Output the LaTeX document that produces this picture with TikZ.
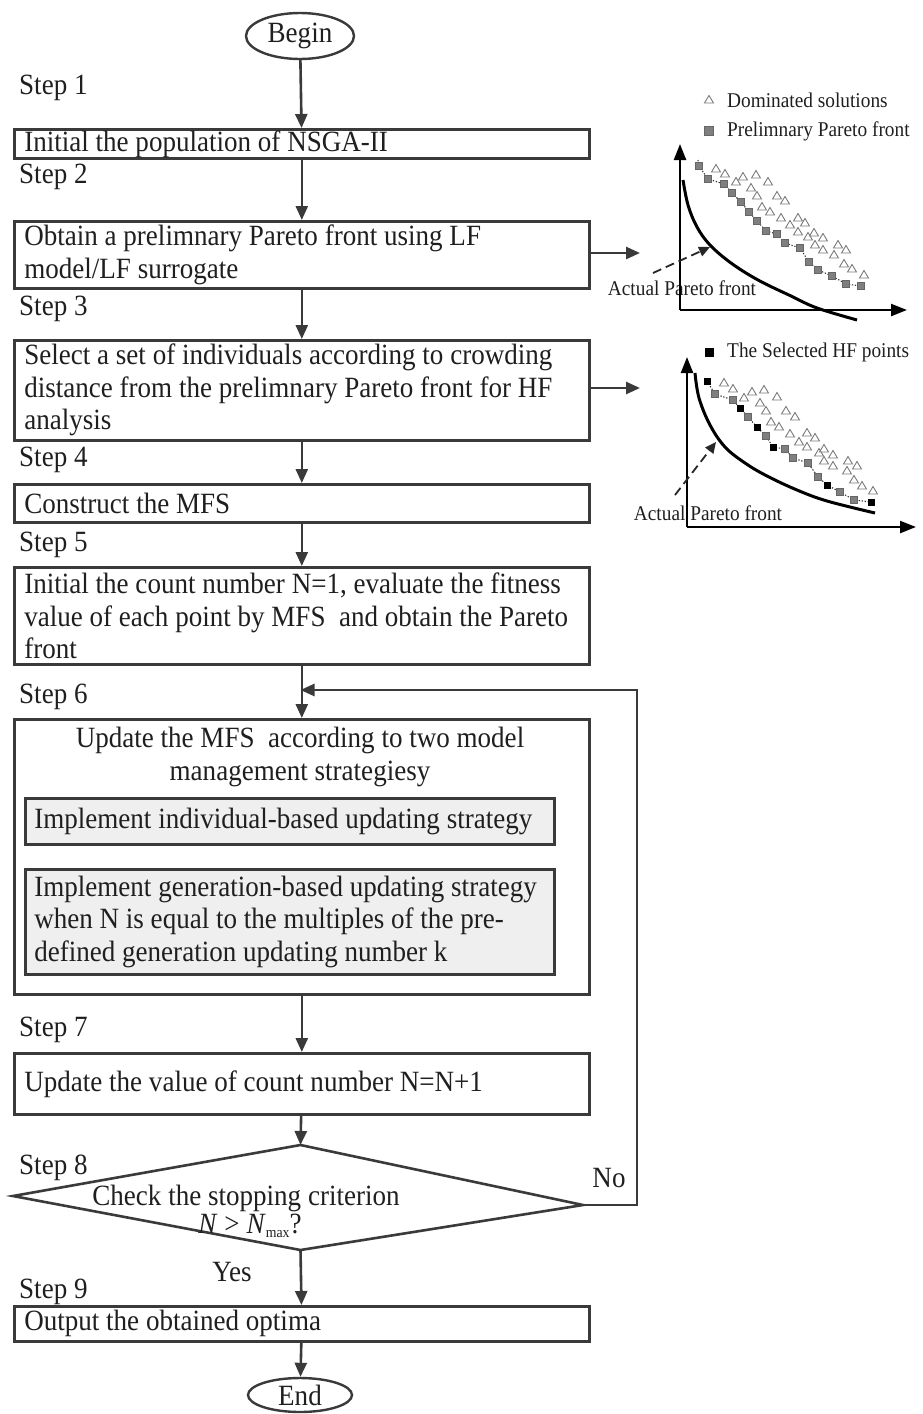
\documentclass[tikz,border=0pt]{standalone}
\usepackage{fontspec}
\setmainfont{Liberation Serif}[FakeStretch=0.92]
\usetikzlibrary{arrows.meta,shapes.geometric}
\definecolor{ln}{HTML}{3A3A3A}
\definecolor{ib}{HTML}{EFEFEF}
\definecolor{mk}{HTML}{7A7A7A}
\definecolor{sqc}{HTML}{7F7F7F}
\newcommand{\oneline}[1]{\mbox{#1}}
\begin{document}
\begin{tikzpicture}[x=1pt,y=-1pt,
  every node/.style={font=\fontsize{29.4}{32.5}\selectfont, text=black!88},
  box/.style={draw=ln, line width=2.6pt, fill=white, anchor=north west, inner xsep=10pt, inner ysep=0pt, text width=555pt, align=flush left},
  ibox/.style={draw=ln, line width=2.6pt, fill=ib, anchor=north west, inner xsep=9pt, inner ysep=0pt, text width=511pt, align=flush left},
  lbl/.style={anchor=west, inner sep=0pt},
  term/.style={draw=ln, line width=2.4pt, ellipse, inner sep=0pt, fill=white},
  arr/.style={draw=ln, line width=2.6pt, -{Triangle[length=14pt,width=12pt]}},
  axis/.style={draw=black, line width=2.4pt, -{Triangle[length=16pt,width=12pt]}},
  dasharr/.style={draw=black!85, line width=1.8pt, dash pattern=on 9pt off 5pt, -{Triangle[length=11pt,width=10pt]}},
  small/.style={font=\fontsize{21}{22}\selectfont, inner sep=0pt},
  front/.style={draw=black, line width=3pt},
  tri/.style={draw=mk, line width=0.9pt},
  sq/.style={fill=sqc, draw=black!60, line width=0.5pt},
  bsq/.style={fill=black},
  dotl/.style={draw=black!80, line width=1.1pt, dash pattern=on 1.3pt off 1.7pt}
]
\useasboundingbox (0,0) rectangle (922,1414);

% ---------------- flowchart ----------------
\node[term, minimum width=108pt, minimum height=46pt] (begin) at (300,36) {Begin};

\node[lbl] (s1) at (19,88) {Step 1};
\node[box, minimum height=29pt] (b1) at (13,128) {\oneline{Initial the population of NSGA-II}};

\node[lbl] (s2) at (19,177) {Step 2};
\node[box, minimum height=67pt] (b2) at (13,220) {\oneline{Obtain a prelimnary Pareto front using LF}\\ \oneline{model/LF surrogate}};

\node[lbl] (s3) at (19,309) {Step 3};
\node[box, minimum height=100pt] (b3) at (13,339) {\oneline{Select a set of individuals according to crowding}\\ \oneline{distance from the prelimnary Pareto front for HF}\\ \oneline{analysis}};

\node[lbl] (s4) at (19,460) {Step 4};
\node[box, minimum height=38pt] (b4) at (13,483) {\oneline{Construct the MFS}};

\node[lbl] (s5) at (19,545) {Step 5};
\node[box, minimum height=97pt] (b5) at (13,566) {\oneline{Initial the count number N=1, evaluate the fitness}\\ \oneline{value of each point by MFS\ \ and obtain the Pareto}\\ \oneline{front}};

\node[lbl] (s6) at (19,697) {Step 6};
\node[box, minimum height=275pt] (b6) at (13,718) {};
\node[align=center, inner sep=0pt] (t6) at (300,757) {Update the MFS\ \ according to two model\\ management strategiesy};
\node[ibox, minimum height=46pt] (i1) at (24,797) {\oneline{Implement individual-based updating strategy}};
\node[ibox, minimum height=105pt] (i2) at (24,868) {\oneline{Implement generation-based updating strategy}\\ \oneline{when N is equal to the multiples of the pre-}\\ \oneline{defined generation updating number k}};

\node[lbl] (s7) at (19,1030) {Step 7};
\node[box, minimum height=61pt] (b7) at (13,1052) {\oneline{Update the value of count number N=N+1}};

\node[lbl] (s8) at (19,1168) {Step 8};
\coordinate (dt) at (300.5,1145);
\coordinate (dr) at (583,1205);
\coordinate (db) at (300.5,1250);
\coordinate (dl) at (13,1196);
\draw[ln, line width=2.6pt, line join=miter] (dt) -- (dr) -- (db) -- (dl) -- cycle;
\node[inner sep=0pt] (dtext) at (246,1198) {Check the stopping criterion};
\node[inner sep=0pt] (dcond) at (250,1226) {\textit{N} > \textit{N}\raisebox{-4pt}{\fontsize{15}{15}\selectfont max}?};

\node[inner sep=0pt] (no) at (609,1178) {No};
\node[inner sep=0pt] (yes) at (232,1272) {Yes};

\node[lbl] (s9) at (19,1292) {Step 9};
\node[box, minimum height=35pt] (b9) at (13,1305) {\oneline{Output the obtained optima}};

\node[term, minimum width=104pt, minimum height=34pt] (end) at (300,1395) {End};

\draw[arr] (begin) -- (b1);
\draw[arr] (b1) -- (b2);
\draw[arr] (b2) -- (b3);
\draw[arr] (b3) -- (b4);
\draw[arr] (b4) -- (b5);
\draw[arr] (b5) -- (b6);
\draw[arr] (b6) -- (b7);
\draw[arr] (b7) -- (dt);
\draw[arr] (db) -- (b9);
\draw[arr] (b9) -- (end);
\coordinate (jn) at (300.5,690);
\draw[arr] (dr) -- (637,1205) -- (637,690) -- (jn);

\coordinate (p1) at (640,253);
\coordinate (p2) at (640,388);
\draw[arr] (b2.east |- p1) -- (p1);
\draw[arr] (b3.east |- p2) -- (p2);

% ---------------- chart 1 ----------------
\draw[tri] (709,95.5) -- (713.5,103) -- (704.5,103) -- cycle;
\node[small, anchor=west] (leg1) at (727,100) {Dominated solutions};
\fill[sq] (704,126.5) rectangle (713,135.5);
\node[small, anchor=west] (leg2) at (727,131) {Prelimnary Pareto front};

\node[small] (apf1) at (682,288) {Actual Pareto front};

\foreach \x/\y in {716/169,725/174,736/182,743/177,756/175,768/182,751/188,757/196,777/196,785/201,762/207,770/212,781/218,798/218,790/225,805/223,798/232,808/237,814/233,823/238,815/245,823/250,838/245,846/250,834/255,844/264,852/269,864/275}
  \draw[tri] (\x,{\y-4.5}) -- ({\x+4.5},{\y+3}) -- ({\x-4.5},{\y+3}) -- cycle;

\draw[dotl] plot coordinates {(698,160) (699,166) (708,179) (724,184) (732,193) (741,202) (749,212) (757,221) (766,231) (777,234) (785,243) (800,248) (809,262) (818,270) (832,276) (846,284) (861,286)};
\foreach \x/\y in {699/166,708/179,724/184,732/193,741/202,749/212,757/221,766/231,777/234,785/243,800/248,809/262,818/270,832/276,846/284,861/286}
  \fill[sq] ({\x-3.5},{\y-3.5}) rectangle ++(7,7);

\draw[front] plot[smooth, tension=0.6] coordinates {(683,180) (688,205) (697,227) (710,245) (731,263) (758,280) (791,296) (817,308) (857,320)};
\draw[axis] (680,310) -- (680,144);
\draw[axis] (680,310) -- (907,310);
\draw[dasharr] (653,273) -- (710,247);

% ---------------- chart 2 ----------------
\fill[bsq] (705,347.5) rectangle (714,356.5);
\node[small, anchor=west] (leg3) at (727,352) {The Selected HF points};

\node[small] (apf2) at (708,513) {Actual Pareto front};

\foreach \x/\y in {724/383,733/389,744/398,752/392,764/390,777/397,760/403,766/411,786/411,795/417,771/422,779/427,790/434,807/433,799/442,815/438,807/447,819/453,824/449,833/455,824/461,833/466,848/461,857/466,847/471,854/480,862/486,873/491}
  \draw[tri] (\x,{\y-4.5}) -- ({\x+4.5},{\y+3}) -- ({\x-4.5},{\y+3}) -- cycle;

\draw[dotl] plot coordinates {(707,381) (715,394) (733,400) (740,408) (748,417) (757,427) (766,436) (773,447) (785,449) (793,458) (808,463) (818,477) (827,485) (840,492) (854,500) (871,502)};
\foreach \x/\y in {715/394,733/400,748/417,766/436,785/449,793/458,808/463,818/477,840/492,854/500}
  \fill[sq] ({\x-3.5},{\y-3.5}) rectangle ++(7,7);
\foreach \x/\y in {707/381,740/408,757/427,773/447,827/485,871/502}
  \fill[bsq] ({\x-3.5},{\y-3.5}) rectangle ++(7,7);

\draw[front] plot[smooth, tension=0.6] coordinates {(695,373) (699,398) (710,425) (725,447) (745,463) (767,476) (797,490) (827,501) (875,513)};
\draw[axis] (687,527) -- (687,357);
\draw[axis] (687,527) -- (916,527);
\draw[dasharr] (675,495) -- (716,442);
\end{tikzpicture}
\end{document}
